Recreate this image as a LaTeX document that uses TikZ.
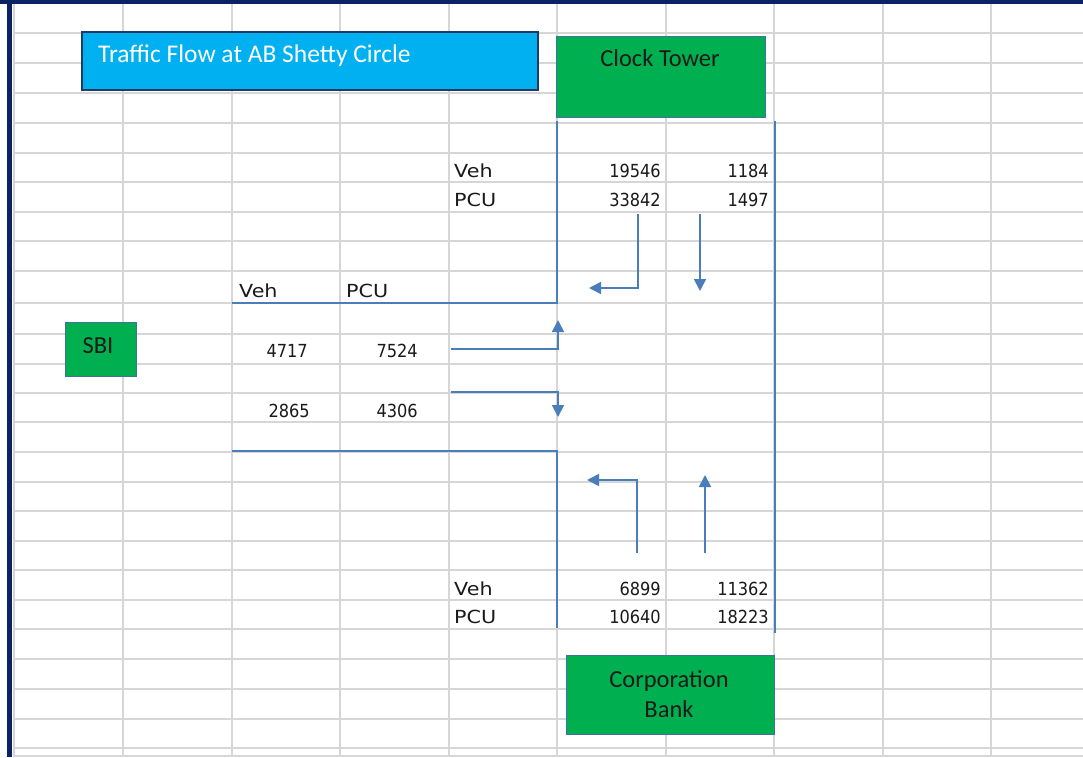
\documentclass[tikz,border=0pt]{standalone}
\usepackage{fontspec}
\setmainfont{Carlito}
\newfontfamily\cellfont{DejaVu Sans}[FakeStretch=0.9]
\newfontfamily\cellwide{DejaVu Sans}[FakeStretch=1.15]
\usetikzlibrary{arrows.meta}
\definecolor{gridc}{HTML}{D6D6D6}
\definecolor{navy}{HTML}{0B2265}
\definecolor{flow}{HTML}{4A7EBB}
\definecolor{titlefill}{HTML}{00B0F0}
\definecolor{titleedge}{HTML}{1F3B63}
\definecolor{boxgreen}{HTML}{00B050}
\definecolor{boxedge}{HTML}{41719C}
\definecolor{ink}{HTML}{1A1A1A}
\begin{document}
\begin{tikzpicture}[x=1pt,y=-1pt,
  gridline/.style={gridc,line width=1.4pt},
  road/.style={flow,line width=1.8pt},
  flowarrow/.style={flow,line width=1.8pt,-{Triangle[length=12pt,width=12pt]}},
  num/.style={inner sep=0pt,anchor=base east,font=\fontsize{18}{20}\cellfont,text=ink},
  lab/.style={inner sep=0pt,anchor=base west,font=\fontsize{18}{20}\cellwide,text=ink},
  place/.style={draw=boxedge,line width=0.8pt,fill=boxgreen,inner sep=0pt,anchor=north west},
  placetext/.style={inner sep=0pt,anchor=base,text=ink,font=\fontsize{24.5}{30}\selectfont}]
\useasboundingbox (0,0) rectangle (1083,757);
\fill[white] (0,0) rectangle (1083,757);
% spreadsheet grid
\foreach \gx in {14,123,232,340,449,557,666,774,883,991}
  \draw[gridline] (\gx,4) -- (\gx,757);
\foreach \gy in {33,63,93,123,153,182,212,241,271,303,334,364,393,422,452,482,511,541,570,600,629,659,689,719,748,756}
  \draw[gridline] (14,\gy) -- (1083,\gy);
% window frame
\fill[navy] (0,0) rectangle (1083,4);
\fill[navy] (7,0) rectangle (12,757);

% title
\node[draw=titleedge,line width=2pt,fill=titlefill,inner sep=0pt,anchor=north west,
      minimum width=456pt,minimum height=58pt] (title) at (81,31) {};
\node[inner sep=0pt,anchor=base west,text=white,font=\fontsize{25.5}{30}\selectfont] (titletext) at (98,63) {Traffic Flow at AB Shetty Circle};

% places
\node[place,minimum width=209pt,minimum height=81pt] (clock) at (556,36) {};
\node[placetext] (clocktext) at (660,67) {Clock Tower};
\node[place,minimum width=71pt,minimum height=54pt] (sbi) at (65,322) {};
\node[placetext] (sbitext) at (98,353) {SBI};
\node[place,minimum width=208pt,minimum height=79pt] (corp) at (566,655) {};
\node[placetext] (corptext1) at (669,687) {Corporation};
\node[placetext] (corptext2) at (669,717) {Bank};

% road edges
\coordinate (r1) at (557,121);
\coordinate (r2) at (557,303);
\coordinate (r3) at (232,303);
\coordinate (r4) at (775,121);
\coordinate (r5) at (775,633);
\coordinate (r6) at (232,451);
\coordinate (r7) at (557,451);
\coordinate (r8) at (557,628);
\draw[road] (r1) -- (r2) -- (r3);
\draw[road] (r4) -- (r5);
\draw[road] (r6) -- (r7) -- (r8);

% flow arrows
\coordinate (a1s) at (638,214);
\coordinate (a1e) at (589,288);
\draw[flowarrow] (a1s) |- (a1e);
\coordinate (a2s) at (700,214);
\coordinate (a2e) at (700,291);
\draw[flowarrow] (a2s) -- (a2e);
\coordinate (a3s) at (451,349);
\coordinate (a3e) at (558,320);
\draw[flowarrow] (a3s) -| (a3e);
\coordinate (a4s) at (451,392);
\coordinate (a4e) at (558,417);
\draw[flowarrow] (a4s) -| (a4e);
\coordinate (a5s) at (637,553);
\coordinate (a5e) at (587,480);
\draw[flowarrow] (a5s) |- (a5e);
\coordinate (a6s) at (705,553);
\coordinate (a6e) at (705,475);
\draw[flowarrow] (a6s) -- (a6e);

% counts from Clock Tower
\node[lab] (tveh) at (454,177) {Veh};
\node[lab] (tpcu) at (454,206) {PCU};
\node[num] (t11) at (661,177) {19546};
\node[num] (t12) at (769,177) {1184};
\node[num] (t21) at (661,206) {33842};
\node[num] (t22) at (769,206) {1497};

% counts from SBI
\node[lab] (lveh) at (239,297) {Veh};
\node[lab] (lpcu) at (346,297) {PCU};
\node[num] (l11) at (308,357) {4717};
\node[num] (l12) at (418,357) {7524};
\node[num] (l21) at (310,417) {2865};
\node[num] (l22) at (418,417) {4306};

% counts from Corporation Bank
\node[lab] (bveh) at (454,595) {Veh};
\node[lab] (bpcu) at (454,623) {PCU};
\node[num] (b11) at (661,595) {6899};
\node[num] (b12) at (769,595) {11362};
\node[num] (b21) at (661,623) {10640};
\node[num] (b22) at (769,623) {18223};
\end{tikzpicture}
\end{document}
